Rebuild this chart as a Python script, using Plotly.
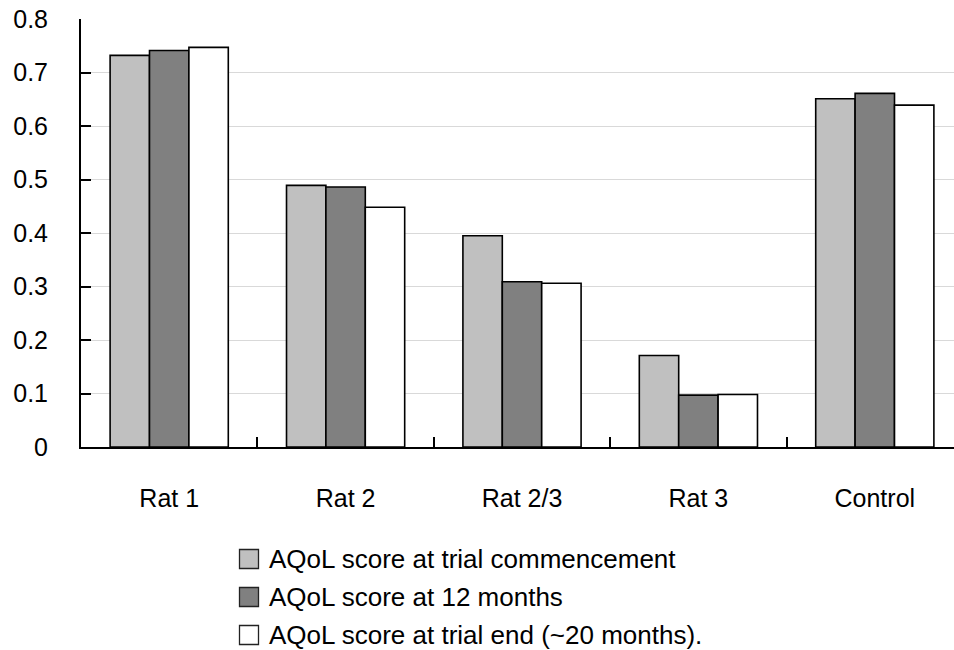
import plotly.graph_objects as go

# AQoL scores per group at three time points
groups = ["Rat 1", "Rat 2", "Rat 2/3", "Rat 3", "Control"]
score_start = [0.732, 0.489, 0.395, 0.171, 0.651]
score_12m = [0.741, 0.486, 0.309, 0.097, 0.661]
score_end = [0.747, 0.448, 0.306, 0.098, 0.639]

series_names = [
    "AQoL score at trial commencement",
    "AQoL score at 12 months",
    "AQoL score at trial end (~20 months).",
]
series_values = [score_start, score_12m, score_end]
series_colors = ["#c0c0c0", "#808080", "#ffffff"]

y_ticks = [0, 0.1, 0.2, 0.3, 0.4, 0.5, 0.6, 0.7, 0.8]
y_ticktext = ["0", "0.1", "0.2", "0.3", "0.4", "0.5", "0.6", "0.7", "0.8"]

FONT = "Arial, 'Liberation Sans', sans-serif"
W, H = 954, 650
M_L, M_R, M_T, M_B = 81, 0, 19, 203
PW, PH = W - M_L - M_R, H - M_T - M_B

fig = go.Figure()
for name, vals, col in zip(series_names, series_values, series_colors):
    fig.add_trace(go.Bar(
        x=groups, y=vals, name=name,
        marker=dict(color=col, line=dict(color="#000000", width=1.6)),
        showlegend=False,
    ))

# category spacing in pixels, the last category runs past the right edge
cat_px = 176.4
x_hi = -0.5 + PW / cat_px

fig.update_layout(
    width=W, height=H,
    margin=dict(l=M_L, r=M_R, t=M_T, b=M_B, pad=0),
    paper_bgcolor="white", plot_bgcolor="white",
    barmode="group", bargap=0.33, bargroupgap=0,
    font=dict(family=FONT, size=25, color="#000000"),
    xaxis=dict(
        type="category",
        categoryorder="array", categoryarray=groups,
        range=[-0.5, x_hi],
        showgrid=False, zeroline=False,
        showline=True, linecolor="#000000", linewidth=2,
        ticks="inside", ticklen=10, tickwidth=1.5, tickcolor="#000000",
        tickson="boundaries",
        ticklabelstandoff=28,
        tickfont=dict(family=FONT, size=25),
    ),
    yaxis=dict(
        range=[0, 0.8],
        tickmode="array", tickvals=y_ticks, ticktext=y_ticktext,
        showgrid=True, gridcolor="#d9d9d9", gridwidth=1.3,
        zeroline=False,
        showline=True, linecolor="#000000", linewidth=2,
        ticks="inside", ticklen=10, tickwidth=1.5, tickcolor="#000000",
        ticklabelstandoff=26,
        tickfont=dict(family=FONT, size=25),
    ),
)


def px_to_paper(xp, yp):
    return (xp - M_L) / PW, (M_T + PH - yp) / PH


# legend drawn below the plot
legend_rows_y = [559, 597, 635]
for name, col, yp in zip(series_names, series_colors, legend_rows_y):
    sx, sy = px_to_paper(249, yp)
    fig.add_shape(
        type="rect", xref="paper", yref="paper",
        xsizemode="pixel", ysizemode="pixel",
        xanchor=sx, yanchor=sy, x0=-9.5, x1=9.5, y0=-9.5, y1=9.5,
        fillcolor=col, line=dict(color="#222222", width=1.3),
    )
    tx, ty = px_to_paper(267, yp)
    fig.add_annotation(
        xref="paper", yref="paper", x=tx, y=ty,
        xanchor="left", yanchor="middle", showarrow=False,
        text=name, font=dict(family=FONT, size=26, color="#000000"),
    )

fig.write_html("out.html")
